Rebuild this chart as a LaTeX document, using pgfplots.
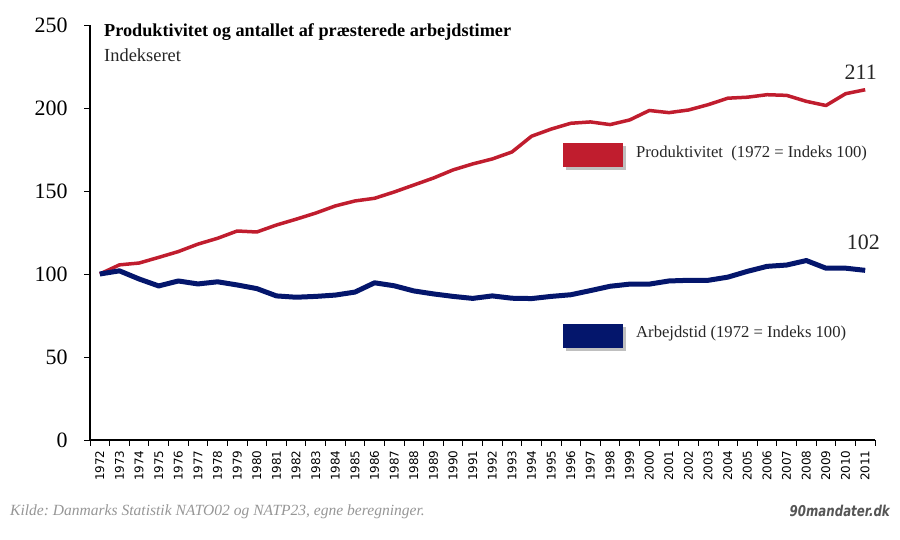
\documentclass[border=0pt]{standalone}
\usepackage{fontspec}
\setmainfont{Liberation Serif}
\newfontfamily\dejavu{DejaVu Sans}
\usepackage{pgfplots}
\pgfplotsset{compat=1.18}
\frenchspacing
\definecolor{prodred}{RGB}{192,29,46}
\definecolor{arbblue}{RGB}{4,22,108}
\definecolor{srcgray}{RGB}{150,150,150}
\definecolor{brandgray}{RGB}{85,85,85}
\begin{document}
\begin{tikzpicture}[x=1bp,y=1bp]
\path[use as bounding box] (-90,-100) rectangle (810,440);
\begin{axis}[at={(0,0)}, anchor=south west, scale only axis,
  width=785bp, height=415bp,
  xmin=1971.5, xmax=2011.5, ymin=0, ymax=250,
  axis x line*=bottom, axis y line*=left,
  axis line style={-, line width=1.2bp, black},
  ytick={0,50,...,250},
  xtick={1972,...,2011},
  minor xtick={1971.5,1972.5,...,2011.5},
  major x tick style={draw=none},
  tick align=outside,
  major tick length=6bp, minor tick length=6bp,
  tick style={black, line width=0.8bp},
  /pgf/number format/1000 sep={},
  /pgf/number format/assume math mode=true,
  yticklabel style={font=\fontsize{22}{22}\selectfont, xshift=-13bp},
  xticklabel style={font=\dejavu\fontsize{12}{12}\selectfont, rotate=90, anchor=east, xshift=-1bp},
  clip=false,
]
\addplot[prodred, line width=3.5bp, line join=round] coordinates {
(1972,100) (1973,105.5) (1974,106.6) (1975,110) (1976,113.5) (1977,118) (1978,121.5)
(1979,125.9) (1980,125.3) (1981,129.5) (1982,133) (1983,136.7) (1984,141) (1985,144)
(1986,145.6) (1987,149.4) (1988,153.6) (1989,157.8) (1990,162.7) (1991,166.3) (1992,169.3)
(1993,173.5) (1994,183) (1995,187.3) (1996,190.8) (1997,191.6) (1998,190) (1999,192.8)
(2000,198.5) (2001,197.2) (2002,198.8) (2003,202) (2004,205.9) (2005,206.5) (2006,208)
(2007,207.6) (2008,204) (2009,201.5) (2010,208.6) (2011,211)
};
\addplot[arbblue, line width=5bp, line join=round] coordinates {
(1972,100) (1973,101.9) (1974,97) (1975,92.8) (1976,95.8) (1977,94) (1978,95.3)
(1979,93.4) (1980,91.2) (1981,86.8) (1982,86) (1983,86.5) (1984,87.3) (1985,89.1)
(1986,94.7) (1987,92.9) (1988,89.8) (1989,88) (1990,86.5) (1991,85.3) (1992,86.8)
(1993,85.4) (1994,85.2) (1995,86.5) (1996,87.5) (1997,90) (1998,92.6) (1999,93.9)
(2000,93.9) (2001,95.8) (2002,96.2) (2003,96.2) (2004,98.1) (2005,101.6) (2006,104.6)
(2007,105.4) (2008,108.1) (2009,103.5) (2010,103.5) (2011,102.2)
};
\end{axis}
% title
\node[anchor=base west, inner sep=0, font=\bfseries\fontsize{18.3}{18.3}\selectfont] at (14,403) {Produktivitet og antallet af præsterede arbejdstimer};
\node[anchor=base west, inner sep=0, font=\fontsize{18.5}{18.5}\selectfont, text=black!85] at (14,378) {Indekseret};
% end labels
\node[anchor=base east, inner sep=0, font=\fontsize{22}{22}\selectfont, text=black!85] at (787,360) {211};
\node[anchor=base east, inner sep=0, font=\fontsize{22}{22}\selectfont, text=black!85] at (790,190) {102};
% legend boxes
\fill[black, opacity=0.25] (476,270) rectangle (536,294);
\fill[prodred] (473,273) rectangle (533,297);
\node[anchor=base west, inner sep=0, font=\fontsize{16.7}{16.7}\selectfont, text=black!85] at (546,282) {Produktivitet\ \ (1972 = Indeks 100)};
\fill[black, opacity=0.25] (476,89) rectangle (536,113);
\fill[arbblue] (473,92) rectangle (533,116);
\node[anchor=base west, inner sep=0, font=\fontsize{16.7}{16.7}\selectfont, text=black!85] at (546,102) {Arbejdstid (1972 = Indeks 100)};
% footer
\node[anchor=base west, inner sep=0, font=\itshape\fontsize{15.6}{15.6}\selectfont, text=srcgray] at (-80,-76) {Kilde: Danmarks Statistik NATO02 og NATP23, egne beregninger.};
\node[anchor=base east, inner sep=0, font=\dejavu\bfseries\itshape\fontsize{15}{15}\selectfont, text=brandgray] at (800,-77) {\scalebox{0.79}[1]{90mandater.dk}};
\end{tikzpicture}
\end{document}
